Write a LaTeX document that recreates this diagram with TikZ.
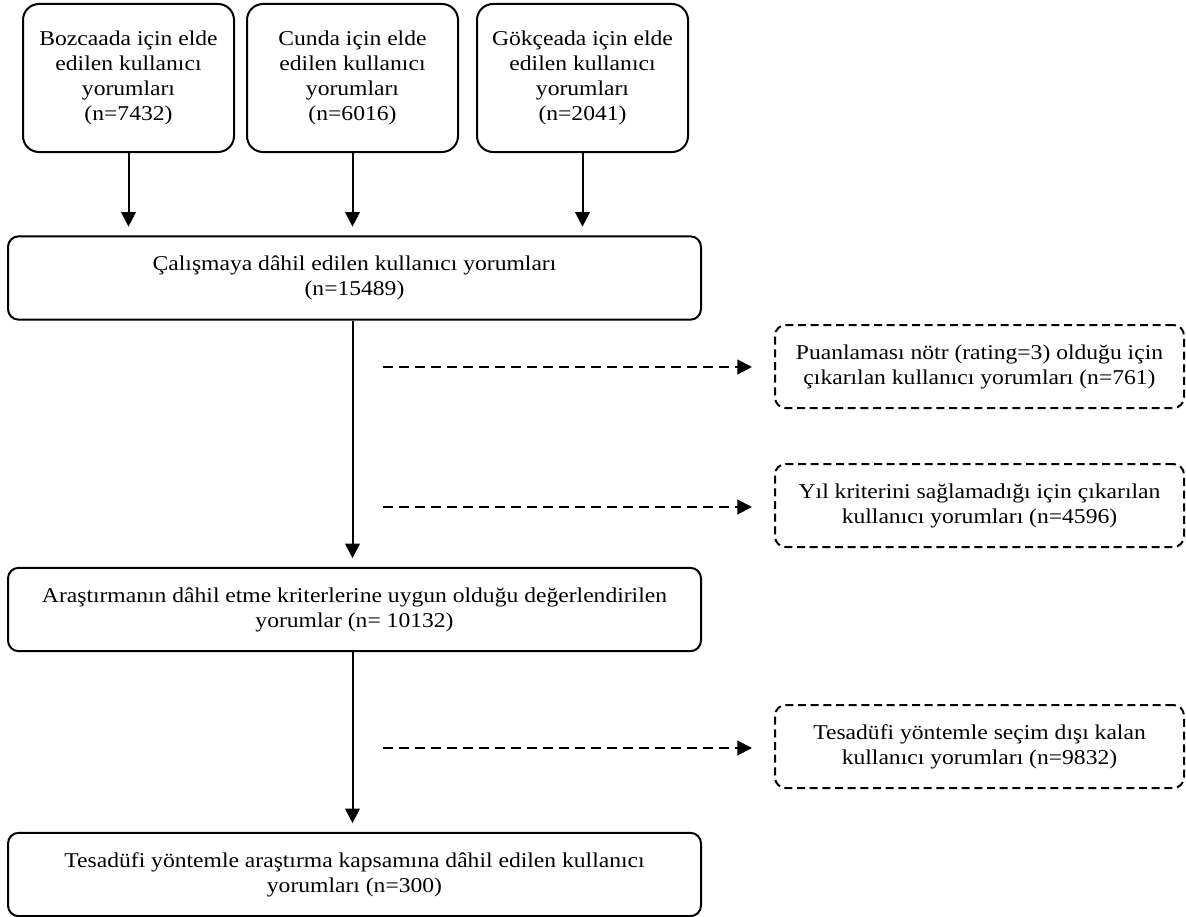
\documentclass[tikz,border=0pt]{standalone}
\usepackage{fontspec}
\setmainfont[FakeStretch=1.12]{Liberation Serif}
\usepackage{tikz}
\usetikzlibrary{arrows.meta}

\begin{document}
\begin{tikzpicture}[x=0.75pt,y=-0.75pt,
	kutu/.style={draw,line width=1.5pt,rounded corners=8pt,align=center,inner sep=0pt,font=\fontsize{15.8}{18.75}\selectfont},
	ustkutu/.style={kutu,rounded corners=12pt,minimum width=158.25pt,minimum height=111pt},
	genis/.style={kutu,minimum width=519.75pt,minimum height=62.5pt},
	yan/.style={kutu,dash pattern=on 6pt off 3.5pt,minimum width=306.75pt,minimum height=62.25pt},
	ok/.style={line width=1.5pt,-{Triangle[length=11pt,width=11pt]},shorten >=6.5pt},
	kesik/.style={ok,dash pattern=on 7.5pt off 4.5pt,shorten >=16.5pt}]
	\newcommand\dxk{383}

	\useasboundingbox (0,0) rectangle (1186,917);

	\node[ustkutu] (bozcaada) at (128.5,78) {Bozcaada için elde\\edilen kullanıcı\\yorumları\\(n=7432)};
	\node[ustkutu] (cunda) at (352.5,78) {Cunda için elde\\edilen kullanıcı\\yorumları\\(n=6016)};
	\node[ustkutu] (gokceada) at (582.5,78) {Gökçeada için elde\\edilen kullanıcı\\yorumları\\(n=2041)};

	\node[genis] (calisma) at (354.5,278) {Çalışmaya dâhil edilen kullanıcı yorumları\\(n=15489)};
	\node[genis] (uygun) at (354.5,609.5) {Araştırmanın dâhil etme kriterlerine uygun olduğu değerlendirilen\\yorumlar (n= 10132)};
	\node[genis] (secilen) at (354.5,874.5) {Tesadüfi yöntemle araştırma kapsamına dâhil edilen kullanıcı\\yorumları (n=300)};

	\node[yan] (notr) at (979.5,366.5) {Puanlaması nötr (rating=3) olduğu için\\çıkarılan kullanıcı yorumları (n=761)};
	\node[yan] (yil) at (979.5,505.5) {Yıl kriterini sağlamadığı için çıkarılan\\kullanıcı yorumları (n=4596)};
	\node[yan] (disi) at (979.5,746.5) {Tesadüfi yöntemle seçim dışı kalan\\kullanıcı yorumları (n=9832)};

	\draw[ok] (bozcaada.south) -- (bozcaada.south |- calisma.north);
	\draw[ok] (cunda.south) -- (cunda.south |- calisma.north);
	\draw[ok] (gokceada.south) -- (gokceada.south |- calisma.north);

	\draw[ok] (cunda.south |- calisma.south) -- (cunda.south |- uygun.north);
	\draw[ok] (cunda.south |- uygun.south) -- (cunda.south |- secilen.north);

	\coordinate (k1) at (\dxk,367);
	\coordinate (k2) at (\dxk,507);
	\coordinate (k3) at (\dxk,748);
	\draw[kesik] (k1) -- (k1 -| notr.west);
	\draw[kesik] (k2) -- (k2 -| yil.west);
	\draw[kesik] (k3) -- (k3 -| disi.west);
\end{tikzpicture}
\end{document}
